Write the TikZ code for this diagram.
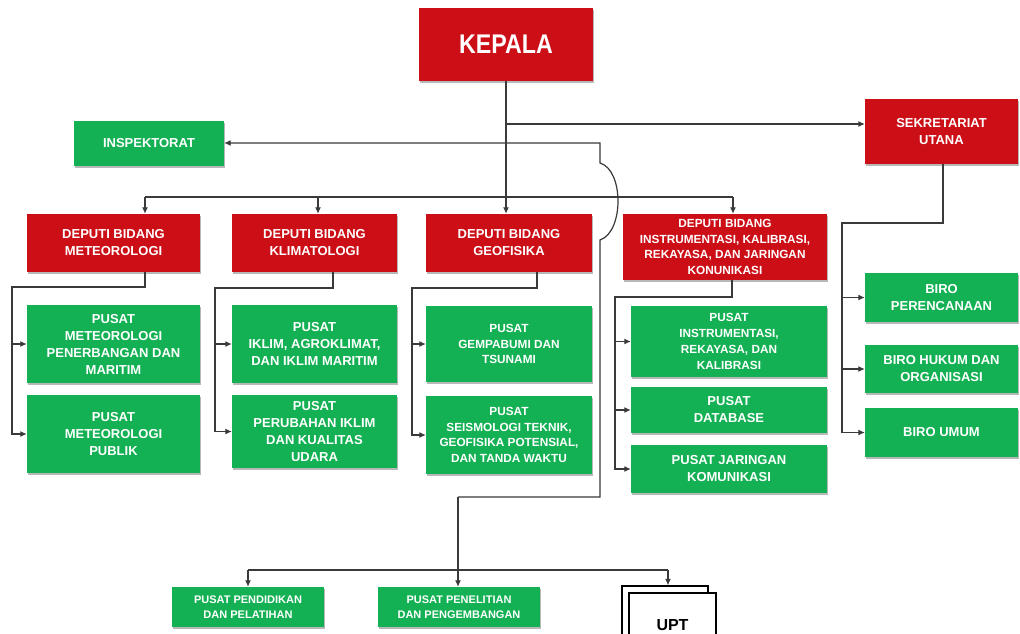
\documentclass[tikz,border=0pt]{standalone}
\usepackage{fontspec}
\usepackage{graphicx}
\setmainfont{Liberation Sans}
\usetikzlibrary{arrows.meta,shadows}

\definecolor{boxred}{RGB}{204,14,22}
\definecolor{boxgreen}{RGB}{20,177,84}
\definecolor{linegray}{RGB}{58,58,58}

\newcommand\boxtxt{\bfseries\fontsize{13}{17}\selectfont}
\newcommand\boxtxtsm{\bfseries\fontsize{11.8}{15.8}\selectfont}
\newcommand\boxtxtxs{\bfseries\fontsize{11}{15}\selectfont}

\tikzset{
  unit/.style={rectangle, draw=none, inner sep=1pt, align=center, text=white,
    font=\boxtxt,
    drop shadow={shadow xshift=1.2pt, shadow yshift=-1.6pt, fill=black, opacity=0.28}},
  redbox/.style={unit, fill=boxred},
  greenbox/.style={unit, fill=boxgreen},
  uptbox/.style={rectangle, draw=black, line width=1.3pt, fill=white, inner sep=0pt},
  conn/.style={draw=linegray, line width=1.2pt},
  arr/.style={conn, -{Latex[length=6.5pt,width=6pt]}},
}

\begin{document}
\begin{tikzpicture}[x=1pt,y=-1pt]
\path[use as bounding box, fill=white] (0,0) rectangle (1020,634);
\clip (0,0) rectangle (1020,634);

% head and staff units
\node[redbox, minimum width=174pt, minimum height=73pt] (kepala) at (506,44.5)
  {\fontsize{27}{30}\selectfont\scalebox{0.86}[1]{KEPALA}};
\node[greenbox, minimum width=150pt, minimum height=45pt] (insp) at (149,143.5) {INSPEKTORAT};
\node[redbox, minimum width=153pt, minimum height=65pt] (sekr) at (941.5,131.5) {SEKRETARIAT\\UTANA};

% deputies
\node[redbox, minimum width=173pt, minimum height=58pt] (dmet) at (113.5,243) {DEPUTI BIDANG\\METEOROLOGI};
\node[redbox, minimum width=165pt, minimum height=58pt] (dklim) at (314.5,243) {DEPUTI BIDANG\\KLIMATOLOGI};
\node[redbox, minimum width=166pt, minimum height=58pt] (dgeo) at (509,243) {DEPUTI BIDANG\\GEOFISIKA};
\node[redbox, font=\boxtxtsm, minimum width=204pt, minimum height=66pt] (dins) at (725,247)
  {DEPUTI BIDANG\\INSTRUMENTASI, KALIBRASI,\\REKAYASA, DAN JARINGAN\\KONUNIKASI};

% centres under the deputies
\node[greenbox, minimum width=173pt, minimum height=78pt] (pm1) at (113.5,344)
  {PUSAT\\METEOROLOGI\\PENERBANGAN DAN\\MARITIM};
\node[greenbox, minimum width=173pt, minimum height=78pt] (pm2) at (113.5,434)
  {PUSAT\\METEOROLOGI\\PUBLIK};
\node[greenbox, minimum width=165pt, minimum height=78pt] (pk1) at (314.5,344)
  {PUSAT\\IKLIM, AGROKLIMAT,\\DAN IKLIM MARITIM};
\node[greenbox, minimum width=165pt, minimum height=73pt] (pk2) at (314.5,431.5)
  {PUSAT\\PERUBAHAN IKLIM\\DAN KUALITAS\\UDARA};
\node[greenbox, font=\boxtxtsm, minimum width=166pt, minimum height=76pt] (pg1) at (509,344)
  {PUSAT\\GEMPABUMI DAN\\TSUNAMI};
\node[greenbox, font=\boxtxtsm, minimum width=166pt, minimum height=78pt] (pg2) at (509,435)
  {PUSAT\\SEISMOLOGI TEKNIK,\\GEOFISIKA POTENSIAL,\\DAN TANDA WAKTU};
\node[greenbox, font=\boxtxtsm, minimum width=196pt, minimum height=71pt] (pi1) at (729,341.5)
  {PUSAT\\INSTRUMENTASI,\\REKAYASA, DAN\\KALIBRASI};
\node[greenbox, minimum width=196pt, minimum height=46pt] (pi2) at (729,410)
  {PUSAT\\DATABASE};
\node[greenbox, minimum width=196pt, minimum height=48pt] (pi3) at (729,469)
  {PUSAT JARINGAN\\KOMUNIKASI};

% bureaus under the secretariat
\node[greenbox, minimum width=153pt, minimum height=49pt] (b1) at (941.5,297.5) {BIRO\\PERENCANAAN};
\node[greenbox, minimum width=153pt, minimum height=48pt] (b2) at (941.5,369) {BIRO HUKUM DAN\\ORGANISASI};
\node[greenbox, minimum width=153pt, minimum height=49pt] (b3) at (941.5,432.5) {BIRO UMUM};

% bottom row
\node[greenbox, font=\boxtxtxs, minimum width=152pt, minimum height=40pt] (diklat) at (248,607)
  {PUSAT PENDIDIKAN\\DAN PELATIHAN};
\node[greenbox, font=\boxtxtxs, minimum width=162pt, minimum height=40pt] (litbang) at (459,607)
  {PUSAT PENELITIAN\\DAN PENGEMBANGAN};
\node[uptbox, minimum width=86pt, minimum height=64pt] (uptb) at (665,618) {};
\node[uptbox, minimum width=87pt, minimum height=64pt, font=\bfseries\fontsize{16}{18}\selectfont]
  (uptf) at (672.5,625) {UPT};

% connector junctions
\coordinate (jS) at (506,124);
\coordinate (busW) at (145,197);
\coordinate (busK) at (318,197);
\coordinate (busE) at (733,197);
\coordinate (jLit) at (458,497);
\coordinate (jTurn) at (600,497);
\coordinate (hopLo) at (600,240);
\coordinate (hopHi) at (600,163);
\coordinate (jIns) at (600,143);
\coordinate (bbW) at (248,570);
\coordinate (bbE) at (668,570);
\coordinate (mD) at (145,287);
\coordinate (mL) at (12,287);
\coordinate (kD) at (333,288);
\coordinate (kL) at (215,288);
\coordinate (gD) at (537,288);
\coordinate (gL) at (412,288);
\coordinate (iD) at (732,297);
\coordinate (iL) at (615,297);
\coordinate (sD) at (943,223);
\coordinate (sL) at (842,223);

% head to geophysics and secretariat
\draw[arr] (kepala.south) -- (kepala.south |- dgeo.north);
\draw[arr] (jS) -- (jS -| sekr.west);

% bus to the deputies
\draw[conn] (busW) -- (busE);
\draw[arr] (busW) -- (busW |- dmet.north);
\draw[arr] (busK) -- (busK |- dklim.north);
\draw[arr] (busE) -- (busE |- dins.north);

% line to the inspectorate, hopping over the deputy bus
\draw[arr] (jLit) -- (jTurn) -- (hopLo) .. controls (624,232) and (624,170) .. (hopHi)
  -- (jIns) -- (jIns -| insp.east);

% bottom row
\draw[conn] (bbW) -- (bbE);
\draw[arr] (jLit) -- (jLit |- litbang.north);
\draw[arr] (bbW) -- (bbW |- diklat.north);
\draw[arr] (bbE) -- (bbE |- uptb.north);

% deputies to their centres
\draw[arr] (dmet.south -| mD) -- (mD) -- (mL) -- (mL |- pm2.west) -- (pm2.west);
\draw[arr] (mL |- pm1.west) -- (pm1.west);
\draw[arr] (dklim.south -| kD) -- (kD) -- (kL) -- (kL |- pk2.west) -- (pk2.west);
\draw[arr] (kL |- pk1.west) -- (pk1.west);
\draw[arr] (dgeo.south -| gD) -- (gD) -- (gL) -- (gL |- pg2.west) -- (pg2.west);
\draw[arr] (gL |- pg1.west) -- (pg1.west);
\draw[arr] (dins.south -| iD) -- (iD) -- (iL) -- (iL |- pi3.west) -- (pi3.west);
\draw[arr] (iL |- pi1.west) -- (pi1.west);
\draw[arr] (iL |- pi2.west) -- (pi2.west);

% secretariat to its bureaus
\draw[arr] (sekr.south -| sD) -- (sD) -- (sL) -- (sL |- b3.west) -- (b3.west);
\draw[arr] (sL |- b1.west) -- (b1.west);
\draw[arr] (sL |- b2.west) -- (b2.west);
\end{tikzpicture}
\end{document}
